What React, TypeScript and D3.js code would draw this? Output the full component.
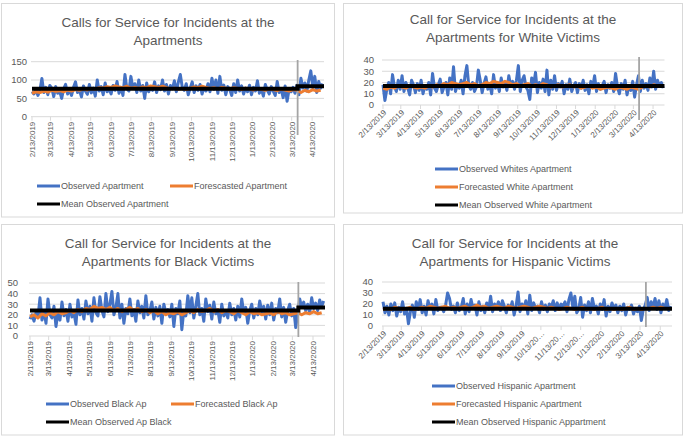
import React from "react";
import * as d3 from "d3";

// ---------- data ----------
const START_DATE = "2/13/2019";
const END_DATE = "5/1/2020";
const BREAK_DATE = "3/22/2020";
const OBS_STEP_DAYS = 3;
const FC_STEP_DAYS = 6;

const tickLabels = [
  "2/13/2019", "3/13/2019", "4/13/2019", "5/13/2019", "6/13/2019", "7/13/2019", "8/13/2019",
  "9/13/2019", "10/13/2019", "11/13/2019", "12/13/2019", "1/13/2020", "2/13/2020", "3/13/2020", "4/13/2020",
];
const tickLabelsHispanic = [
  "2/13/2019", "3/13/2019", "4/13/2019", "5/13/2019", "6/13/2019", "7/13/2019", "8/13/2019",
  "9/13/2019", "10/13/20…", "11/13/20…", "12/13/20…", "1/13/2020", "2/13/2020", "3/13/2020", "4/13/2020",
];

const aptObserved = [
  68, 62, 75, 58, 72, 104, 66, 80, 60, 85,
  78, 55, 82, 64, 70, 50, 76, 88, 62, 73,
  58, 80, 95, 66, 72, 54, 84, 70, 61, 88,
  65, 78, 56, 100, 70, 82, 60, 92, 68, 75,
  62, 85, 72, 96, 64, 80, 58, 115, 76, 70,
  110, 78, 90, 66, 100, 70, 85, 50, 92, 68,
  80, 72, 95, 66, 84, 74, 100, 70, 88, 62,
  85, 76, 98, 68, 94, 115, 80, 72, 90, 60,
  78, 95, 66, 84, 72, 88, 62, 80, 70, 90,
  68, 105, 75, 100, 64, 110, 72, 86, 60, 82,
  74, 58, 90, 66, 100, 70, 84, 62, 78, 68,
  86, 60, 80, 70, 98, 64, 76, 56, 88, 72,
  62, 82, 70, 58, 96, 66, 76, 52, 84, 42,
  74, 68, 80, 64, 86, 60, 105, 78, 92, 70,
  100, 125, 80, 110, 66, 96, 78, 90,
];
const aptForecast = [
  64, 68, 66, 70, 67, 72, 69, 71, 68, 73,
  70, 74, 72, 76, 73, 77, 75, 79, 78, 82,
  80, 84, 81, 79, 83, 78, 80, 77, 81, 79,
  84, 82, 80, 83, 79, 76, 78, 75, 77, 74,
  78, 81, 79, 83, 80, 77, 79, 76, 80, 78,
  75, 79, 77, 74, 78, 76, 73, 77, 75, 72,
  76, 74, 71, 75, 73, 70, 74, 72,
  66, 72, 68, 74, 70, 72,
];
const aptMean = [76, 83];

const whiteObserved = [
  18, 4, 14, 20, 10, 27, 16, 12, 22, 14,
  26, 12, 20, 15, 9, 22, 18, 11, 19, 13,
  22, 10, 17, 14, 20, 9, 28, 15, 12, 18,
  23, 11, 16, 20, 9, 24, 14, 34, 12, 18,
  15, 22, 10, 26, 35, 17, 14, 20, 12, 16,
  31, 22, 11, 19, 25, 14, 18, 10, 27, 15,
  20, 12, 24, 16, 19, 13, 26, 17, 21, 14,
  22, 35, 12, 22, 26, 16, 13, 5, 24, 18,
  29, 11, 20, 15, 23, 12, 31, 9, 22, 14,
  26, 13, 19, 16, 21, 10, 18, 14, 23, 12,
  17, 20, 11, 19, 15, 22, 13, 18, 10, 21,
  16, 26, 12, 19, 14, 17, 21, 11, 18, 15,
  20, 12, 28, 16, 10, 19, 14, 22, 9, 17,
  13, 21, 7, 18, 26, 12, 22, 15, 19, 13,
  24, 16, 30, 14, 22, 17, 20, 15,
];
const whiteForecast = [
  15, 14, 16, 15, 17, 16, 15, 17, 16, 15,
  16, 15, 17, 16, 18, 17, 19, 18, 20, 19,
  18, 19, 20, 18, 19, 17, 18, 20, 19, 21,
  20, 19, 21, 20, 18, 19, 17, 18, 19, 17,
  18, 17, 19, 18, 16, 17, 18, 16, 17, 18,
  16, 17, 15, 16, 17, 15, 16, 14, 15, 16,
  15, 14, 16, 15, 14, 16, 15, 14,
  16, 17, 16, 18, 17, 17,
];
const whiteMean = [17, 17];

const blackObserved = [
  16, 20, 14, 22, 18, 36, 15, 24, 12, 35,
  20, 17, 28, 9, 22, 15, 32, 19, 25, 14,
  30, 18, 22, 11, 34, 20, 26, 16, 33, 21,
  28, 14, 36, 22, 19, 37, 24, 18, 40, 23,
  30, 42, 20, 27, 40, 17, 30, 12, 26, 21,
  35, 19, 25, 14, 33, 22, 28, 17, 38, 20,
  24, 32, 16, 27, 19, 28, 12, 30, 22, 25,
  18, 30, 9, 26, 21, 33, 6, 24, 19, 38,
  22, 36, 17, 28, 40, 20, 26, 14, 35, 23,
  29, 16, 32, 21, 25, 13, 30, 19, 24, 17,
  31, 20, 26, 15, 28, 18, 35, 22, 27, 12,
  24, 30, 17, 26, 20, 33, 23, 28, 16, 29,
  20, 31, 15, 26, 22, 35, 18, 27, 13, 24,
  30, 19, 26, 8, 21, 35, 27, 32, 24, 30,
  22, 36, 26, 31, 24, 34, 28, 33,
];
const blackForecast = [
  18, 20, 17, 21, 19, 22, 20, 23, 21, 22,
  24, 22, 25, 23, 26, 25, 28, 26, 27, 25,
  27, 24, 26, 23, 25, 27, 24, 26, 23, 25,
  22, 24, 21, 23, 20, 22, 21, 23, 20, 22,
  24, 22, 25, 23, 24, 26, 23, 25, 22, 24,
  23, 21, 24, 22, 20, 23, 21, 22, 20, 21,
  22, 20, 23, 21, 22, 20, 21, 22,
  20, 22, 21, 23, 21, 22,
];
const blackMean = [24, 27];

const hispObserved = [
  22, 12, 18, 10, 20, 14, 21, 9, 17, 13,
  22, 11, 16, 2, 13, 19, 8, 22, 15, 24,
  12, 18, 10, 23, 16, 20, 11, 24, 14, 17,
  17, 13, 19, 30, 25, 15, 18, 12, 21, 14,
  17, 25, 11, 20, 13, 24, 16, 19, 10, 22,
  14, 18, 12, 21, 15, 27, 13, 20, 17, 22,
  14, 23, 18, 12, 19, 15, 22, 10, 18, 31,
  13, 20, 16, 23, 11, 28, 14, 21, 16, 18,
  12, 22, 15, 19, 13, 20, 17, 23, 14, 21,
  16, 20, 18, 22, 13, 24, 30, 17, 27, 12,
  15, 26, 8, 19, 14, 22, 12, 25, 16, 18,
  11, 20, 15, 24, 9, 18, 13, 21, 16, 19,
  12, 18, 14, 20, 10, 17, 15, 19, 11, 16,
  13, 18, 5, 15, 19, 26, 14, 22, 17, 25,
  15, 23, 12, 20, 16, 24, 14, 18,
];
const hispForecast = [
  15, 16, 15, 17, 16, 15, 16, 17, 15, 16,
  17, 16, 18, 17, 16, 17, 18, 16, 17, 16,
  17, 18, 16, 17, 19, 17, 18, 16, 17, 18,
  17, 16, 18, 17, 16, 17, 18, 17, 16, 17,
  18, 17, 16, 17, 16, 15, 16, 17, 16, 15,
  16, 17, 15, 16, 15, 16, 17, 15, 16, 15,
  16, 15, 16, 17, 15, 16, 15, 16,
  16, 17, 16, 17, 16, 16,
];
const hispMean = [15.7, 15.7];

// ---------- styling ----------
const BLUE = "#4472C4";
const ORANGE = "#ED7D31";
const BLACK = "#000000";
const VLINE = "#A5A5A5";
const GRID = "#D9D9D9";
const TEXT = "#595959";
const FONT = "'Liberation Sans', Arial, sans-serif";

const parse = d3.timeParse("%m/%d/%Y");
const startDate = parse(START_DATE) as Date;
const endDate = parse(END_DATE) as Date;
const breakDate = parse(BREAK_DATE) as Date;

type LegendItem = { label: string; color: string; x: number; y: number };
type PanelCfg = {
  box: [number, number, number, number];
  title: string[];
  titleX: number;
  titleY: number[];
  x0: number;
  x1: number;
  yBottom: number;
  yTop: number;
  yMax: number;
  yStep: number;
  labelX: number;
  rot: number;
  vLine: [number, number];
  legend: LegendItem[];
  labels: string[];
  observed: number[];
  forecast: number[];
  mean: number[];
};

function Panel({ cfg }: { cfg: PanelCfg }) {
  const x = d3.scaleTime().domain([startDate, endDate]).range([cfg.x0, cfg.x1]);
  const y = d3.scaleLinear().domain([0, cfg.yMax]).range([cfg.yBottom, cfg.yTop]);
  const yTicks = d3.range(0, cfg.yMax + 0.001, cfg.yStep);
  const tickDates = tickLabels.map((l) => parse(l) as Date);

  const obsLine = d3
    .line<number>()
    .x((_, i) => x(d3.timeDay.offset(startDate, i * OBS_STEP_DAYS)))
    .y((d) => y(d));
  const fcLine = d3
    .line<number>()
    .x((_, i) => x(d3.timeDay.offset(startDate, i * FC_STEP_DAYS)))
    .y((d) => y(d));
  const meanPts: [Date, number][] = [
    [startDate, cfg.mean[0]],
    [breakDate, cfg.mean[0]],
    [breakDate, cfg.mean[1]],
    [endDate, cfg.mean[1]],
  ];
  const meanLine = d3
    .line<[Date, number]>()
    .x((d) => x(d[0]))
    .y((d) => y(d[1]));

  const [bx, by, bw, bh] = cfg.box;
  const gx0 = cfg.x0 - 1;
  const gx1 = cfg.x1;
  const vx = x(breakDate);

  return (
    <g>
      <rect x={bx} y={by} width={bw} height={bh} fill="#fff" stroke={GRID} strokeWidth={1} />
      {cfg.title.map((t, i) => (
        <text key={i} x={cfg.titleX} y={cfg.titleY[i]} textAnchor="middle" fontSize={13.5} fill={TEXT} fontFamily={FONT}>
          {t}
        </text>
      ))}
      {yTicks.map((t) => (
        <g key={t}>
          <line x1={gx0} x2={gx1} y1={y(t)} y2={y(t)} stroke={GRID} strokeWidth={1} />
          <text x={cfg.labelX} y={y(t)} dy="0.35em" textAnchor="end" fontSize={9.5} fill={TEXT} fontFamily={FONT}>
            {t}
          </text>
        </g>
      ))}
      {tickDates.map((d, i) => {
        const tx = x(d);
        const ay = cfg.yBottom;
        const transform =
          cfg.rot === -90
            ? `translate(${tx},${ay + 5}) rotate(-90)`
            : `translate(${tx + 2},${ay + 6}) rotate(${cfg.rot})`;
        return (
          <g key={i}>
            <line x1={tx} x2={tx} y1={ay} y2={ay + 4} stroke={GRID} strokeWidth={1} />
            <text transform={transform} dy="0.35em" textAnchor="end" fontSize={8} fill={TEXT} fontFamily={FONT}>
              {cfg.labels[i]}
            </text>
          </g>
        );
      })}
      <path d={obsLine(cfg.observed) || ""} fill="none" stroke={BLUE} strokeWidth={3} strokeLinejoin="round" />
      <path d={fcLine(cfg.forecast) || ""} fill="none" stroke={ORANGE} strokeWidth={3} strokeLinejoin="round" />
      <line x1={vx} x2={vx} y1={cfg.vLine[0]} y2={cfg.vLine[1]} stroke={VLINE} strokeWidth={1.8} />
      <path d={meanLine(meanPts) || ""} fill="none" stroke={BLACK} strokeWidth={4} />
      {cfg.legend.map((l, i) => (
        <g key={i}>
          <line x1={l.x} x2={l.x + 23} y1={l.y} y2={l.y} stroke={l.color} strokeWidth={3} />
          <text x={l.x + 24} y={l.y} dy="0.35em" fontSize={9} fill={TEXT} fontFamily={FONT}>
            {l.label}
          </text>
        </g>
      ))}
    </g>
  );
}

export default function App() {
  const panels: PanelCfg[] = [
    {
      box: [1.5, 3.5, 333, 213.5],
      title: ["Calls for Service for Incidents at the", "Apartments"],
      titleX: 168,
      titleY: [26.5, 44.5],
      x0: 32,
      x1: 324,
      yBottom: 116.7,
      yTop: 61.7,
      yMax: 150,
      yStep: 50,
      labelX: 27,
      rot: -90,
      vLine: [60, 135],
      legend: [
        { label: "Observed Apartment", color: BLUE, x: 37, y: 186 },
        { label: "Forescasted Apartment", color: ORANGE, x: 170, y: 186 },
        { label: "Mean Observed Apartment", color: BLACK, x: 37, y: 204 },
      ],
      labels: tickLabels,
      observed: aptObserved,
      forecast: aptForecast,
      mean: aptMean,
    },
    {
      box: [343.5, 3.5, 339, 209.5],
      title: ["Call for Service for Incidents at the", "Apartments for White Victims"],
      titleX: 513,
      titleY: [24, 42],
      x0: 383,
      x1: 664.5,
      yBottom: 105,
      yTop: 60,
      yMax: 40,
      yStep: 10,
      labelX: 374,
      rot: -45,
      vLine: [57, 120],
      legend: [
        { label: "Observed Whites Apartment", color: BLUE, x: 435, y: 169 },
        { label: "Forecasted White Apartment", color: ORANGE, x: 435, y: 187 },
        { label: "Mean Observed White Apartment", color: BLACK, x: 435, y: 205 },
      ],
      labels: tickLabels,
      observed: whiteObserved,
      forecast: whiteForecast,
      mean: whiteMean,
    },
    {
      box: [1.5, 224.5, 333, 210.5],
      title: ["Call for Service for Incidents at the", "Apartments for Black Victims"],
      titleX: 168,
      titleY: [247.5, 265.5],
      x0: 30,
      x1: 325,
      yBottom: 336,
      yTop: 283,
      yMax: 50,
      yStep: 10,
      labelX: 18,
      rot: -90,
      vLine: [282, 337],
      legend: [
        { label: "Observed Black Ap", color: BLUE, x: 46, y: 404 },
        { label: "Forecasted Black Ap", color: ORANGE, x: 171, y: 404 },
        { label: "Mean Observed Ap Black", color: BLACK, x: 46, y: 422 },
      ],
      labels: tickLabels,
      observed: blackObserved,
      forecast: blackForecast,
      mean: blackMean,
    },
    {
      box: [343.5, 224.5, 339, 210.5],
      title: ["Call for Service for Incidents at the", "Apartments for Hispanic Victims"],
      titleX: 515,
      titleY: [248, 266],
      x0: 383,
      x1: 672,
      yBottom: 326,
      yTop: 282,
      yMax: 40,
      yStep: 10,
      labelX: 373,
      rot: -45,
      vLine: [282, 327],
      legend: [
        { label: "Observed Hispanic Apartment", color: BLUE, x: 432, y: 386 },
        { label: "Forecasted Hispanic Apartment", color: ORANGE, x: 432, y: 404 },
        { label: "Mean Observed Hispanic Appartment", color: BLACK, x: 432, y: 422 },
      ],
      labels: tickLabelsHispanic,
      observed: hispObserved,
      forecast: hispForecast,
      mean: hispMean,
    },
  ];

  return (
    <svg
      width={685}
      height={437}
      viewBox="0 0 685 437"
      style={{ position: "absolute", left: 0, top: 0, background: "#fff" }}
    >
      <rect x={0} y={0} width={685} height={437} fill="#fff" />
      {panels.map((p, i) => (
        <Panel key={i} cfg={p} />
      ))}
    </svg>
  );
}
